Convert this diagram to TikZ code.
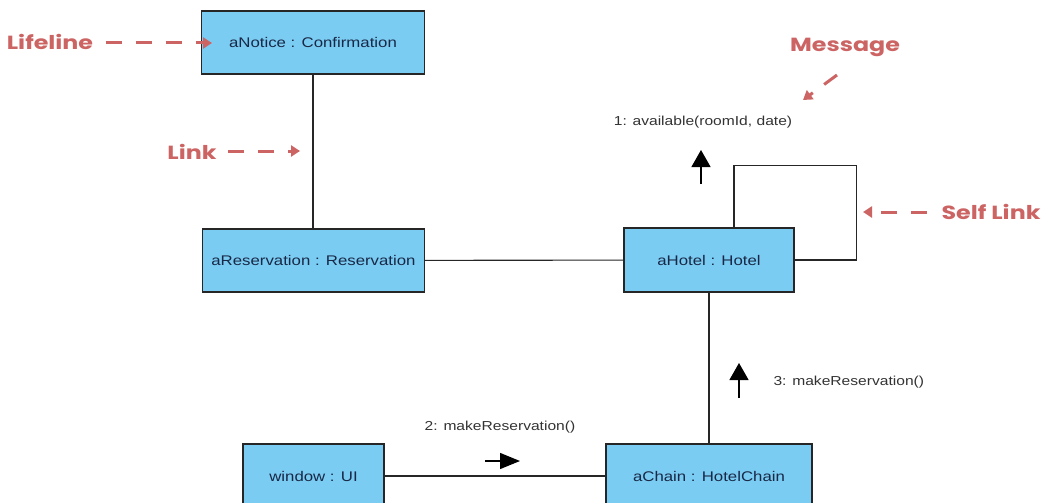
\documentclass[tikz,border=0pt]{standalone}
\usepackage{fontspec}
\usetikzlibrary{arrows.meta}
\newfontfamily\boxfont{Liberation Sans}[FakeStretch=1.2]
\newfontfamily\notefont{Poppins}[FakeStretch=1.25]
\definecolor{objfill}{RGB}{122,204,242}
\definecolor{objtext}{RGB}{25,40,70}
\definecolor{notered}{RGB}{204,100,100}

\begin{document}
\begin{tikzpicture}[x=1pt,y=-1pt,
  object/.style={draw=black!85, line width=1.3pt, fill=objfill,
    font=\boxfont\fontsize{14}{16}\selectfont, text=objtext,
    minimum height=63pt, inner sep=0pt},
  link/.style={line width=1.1pt, black!85},
  vmsg/.style={line width=1.3pt, black, -{Triangle[length=17pt,width=19pt]}},
  hmsg/.style={line width=1.3pt, black, -{Triangle[length=20pt,width=16pt]}},
  msglabel/.style={font=\boxfont\fontsize{13}{15}\selectfont, text=black!80},
  note/.style={font=\notefont\bfseries\fontsize{19}{22}\selectfont, text=notered},
  notearrow/.style={notered, line width=3pt, dash pattern=on 16pt off 14pt,
    -{Triangle[length=9pt,width=11pt]}}
]
\useasboundingbox (0,0) rectangle (1052,503);
\fill[white] (0,0) rectangle (1052,503);

% links between objects
\coordinate (nc) at (313,42.5);
\coordinate (rc) at (313.5,260.5);
\coordinate (hc) at (709,260);
\coordinate (uc) at (313.5,476);
\coordinate (cc) at (709,476);
\draw[link] (nc) -- (nc |- rc);
\draw[link] (rc) -- (hc);
\draw[link] (hc) -- (cc);
\draw[link] (uc) -- (cc);

% objects
\node[object, minimum width=223pt] (notice) at (nc) {aNotice : Confirmation};
\node[object, minimum width=222pt] (resv) at (rc) {aReservation : Reservation};
\node[object, minimum width=170pt, minimum height=64pt] (hotel) at (hc) {aHotel : Hotel};
\node[object, minimum width=141pt, minimum height=64pt] (ui) at (uc) {window : UI};
\node[object, minimum width=206pt, minimum height=64pt] (chain) at (cc) {aChain : HotelChain};

% self link on the hotel
\draw[link] ([xshift=25pt]hotel.north) -- ++(0,-62) -| ([xshift=62pt]hotel.east) -- (hotel.east);

% messages
\coordinate (m1s) at (701,184);
\coordinate (m1e) at (701,150);
\coordinate (m2s) at (485,461);
\coordinate (m2e) at (520,461);
\coordinate (m3s) at (739,398);
\coordinate (m3e) at (739,363);
\draw[vmsg] (m1s) -- (m1e);
\draw[hmsg] (m2s) -- (m2e);
\draw[vmsg] (m3s) -- (m3e);
\node[msglabel] (l1) at (703,122) {1: available(roomId, date)};
\node[msglabel] (l2) at (500,427) {2: makeReservation()};
\node[msglabel, anchor=west] (l3) at (770,382) {3: makeReservation()};

% annotations
\node[note] (nlife) at (50,42) {Lifeline};
\node[note] (nlink) at (192,152) {Link};
\node[note] (nmsg) at (845,47) {Message};
\node[note] (nself) at (991,212) {Self Link};
\coordinate (alife) at (212,43);
\coordinate (alink) at (300,151);
\coordinate (amsgs) at (837,75);
\coordinate (amsge) at (803,100);
\coordinate (aselfs) at (927,212);
\coordinate (aselfe) at (863,212);
\draw[notearrow] ([xshift=9pt]nlife.east |- alife) -- (alife);
\draw[notearrow] ([xshift=8pt]nlink.east |- alink) -- (alink);
\draw[notearrow] (amsgs) -- (amsge);
\draw[notearrow] (aselfs) -- (aselfe);
\end{tikzpicture}
\end{document}
